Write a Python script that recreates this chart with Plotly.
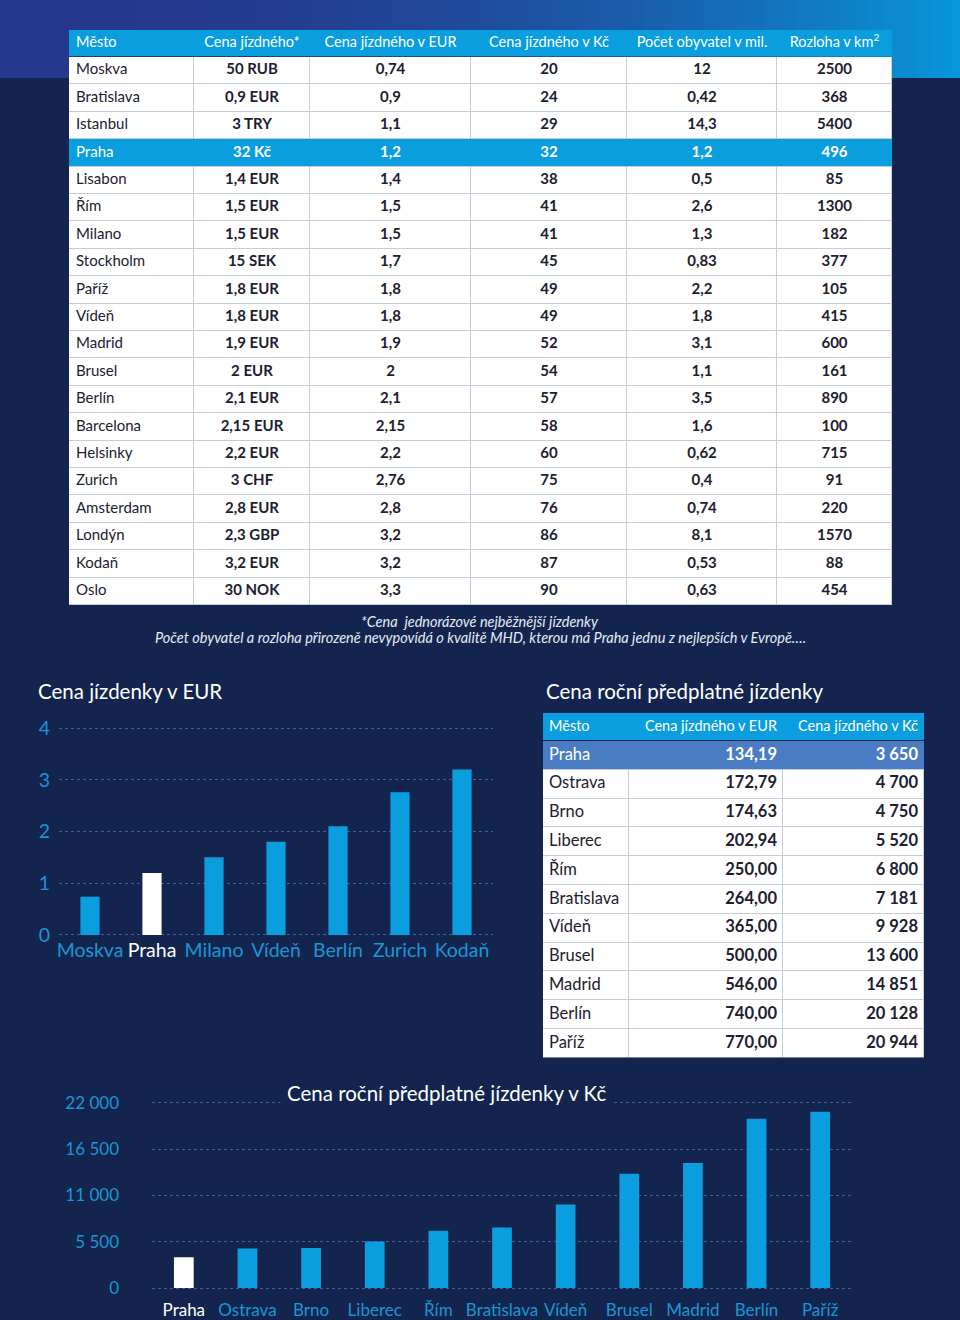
import plotly.graph_objects as go

# ---------------- data ----------------
cities = ["Moskva", "Bratislava", "Istanbul", "Praha", "Lisabon", "Řím", "Milano", "Stockholm",
          "Paříž", "Vídeň", "Madrid", "Brusel", "Berlín", "Barcelona", "Helsinky", "Zurich",
          "Amsterdam", "Londýn", "Kodaň", "Oslo"]
fare_local = ["50 RUB", "0,9 EUR", "3 TRY", "32 Kč", "1,4 EUR", "1,5 EUR", "1,5 EUR", "15 SEK",
              "1,8 EUR", "1,8 EUR", "1,9 EUR", "2 EUR", "2,1 EUR", "2,15 EUR", "2,2 EUR", "3 CHF",
              "2,8 EUR", "2,3 GBP", "3,2 EUR", "30 NOK"]
fare_eur = [0.74, 0.9, 1.1, 1.2, 1.4, 1.5, 1.5, 1.7, 1.8, 1.8, 1.9, 2, 2.1, 2.15, 2.2, 2.76,
            2.8, 3.2, 3.2, 3.3]
fare_czk = [20, 24, 29, 32, 38, 41, 41, 45, 49, 49, 52, 54, 57, 58, 60, 75, 76, 86, 87, 90]
population = [12, 0.42, 14.3, 1.2, 0.5, 2.6, 1.3, 0.83, 2.2, 1.8, 3.1, 1.1, 3.5, 1.6, 0.62, 0.4,
              0.74, 8.1, 0.53, 0.63]
area = [2500, 368, 5400, 496, 85, 1300, 182, 377, 105, 415, 600, 161, 890, 100, 715, 91, 220,
        1570, 88, 454]
table_headers = ["Město", "Cena jízdného*", "Cena jízdného v EUR", "Cena jízdného v Kč",
                 "Počet obyvatel v mil.", "Rozloha v km<sup>2</sup>"]

eur_chart_cities = ["Moskva", "Praha", "Milano", "Vídeň", "Berlín", "Zurich", "Kodaň"]

annual_cities = ["Praha", "Ostrava", "Brno", "Liberec", "Řím", "Bratislava", "Vídeň", "Brusel",
                 "Madrid", "Berlín", "Paříž"]
annual_eur = [134.19, 172.79, 174.63, 202.94, 250.00, 264.00, 365.00, 500.00, 546.00, 740.00, 770.00]
annual_czk = [3650, 4700, 4750, 5520, 6800, 7181, 9928, 13600, 14851, 20128, 20944]
annual_headers = ["Město", "Cena jízdného v EUR", "Cena jízdného v Kč"]
annual_ticks = [0, 5500, 11000, 16500, 22000]

highlight = "Praha"

# ---------------- styles ----------------
W, H = 960, 1320
NAVY = "#13254e"
CYAN = "#0a9ede"
PRAHA_BLUE = "#4a7cc4"
TICK = "#1b96d3"
GRID = "#3d62a6"
FONT = "Lato"
LINE = "#c3cddb"
DARK = "#1c2030"


def py(px):
    return 1 - px / H


def px_x(px):
    return px / W


def num(v):
    return f"{v:g}".replace(".", ",")


def thousands(v):
    return f"{v:,}".replace(",", " ")


def label(c):
    return f'<span style="color:white">{c}</span>' if c == highlight else c


def cumul(first, sizes):
    out = [first]
    for s in sizes:
        out.append(out[-1] + s)
    return out


fig = go.Figure()
shapes = []


def add_table(xa, ya, col_w, head_h, row_h, headers, columns, row_keys, hl_code,
              head_align, body_align, head_size, body_size, pad):
    """Draw a table: heatmap cells on their own axes + text traces."""
    nrow = len(row_keys)
    ncol = len(col_w)
    x_edges = cumul(0, col_w)
    y_edges = cumul(0, [head_h] + [row_h] * nrow)
    total_h = y_edges[-1]
    shapes.append(dict(type="rect", xref=xa, yref=ya, layer="below", x0=0, x1=x_edges[-1],
                       y0=head_h, y1=total_h, fillcolor=LINE, line_width=0))
    fig.add_trace(go.Heatmap(
        x=x_edges, y=y_edges[1:], z=[[0] * ncol for _ in range(nrow)],
        xaxis=xa, yaxis=ya, zmin=0, zmax=2,
        colorscale=[[0, "white"], [0.5, CYAN], [1, PRAHA_BLUE]],
        showscale=False, xgap=1, ygap=1, hoverinfo="skip"))
    z = [[1] * ncol] + [[hl_code] * ncol if k == highlight else [None] * ncol for k in row_keys]
    fig.add_trace(go.Heatmap(
        x=x_edges, y=y_edges, z=z, xaxis=xa, yaxis=ya, zmin=0, zmax=2,
        colorscale=[[0, "white"], [0.5, CYAN], [1, PRAHA_BLUE]],
        showscale=False, xgap=0, ygap=1, hoverinfo="skip"))

    def xpos(j, align):
        if align == "left":
            return x_edges[j] + pad, "middle right"
        if align == "right":
            return x_edges[j + 1] - pad, "middle left"
        return (x_edges[j] + x_edges[j + 1]) / 2, "middle center"

    hx, hp = zip(*[xpos(j, head_align[j]) for j in range(ncol)])
    fig.add_trace(go.Scatter(
        x=list(hx), y=[head_h / 2] * ncol, text=headers, mode="text", textposition=list(hp),
        textfont=dict(family=FONT, size=head_size, color="white"),
        xaxis=xa, yaxis=ya, hoverinfo="skip", showlegend=False, cliponaxis=False))
    bx, by, bt, bp, bc = [], [], [], [], []
    for j in range(ncol):
        x, p = xpos(j, body_align[j])
        for i, k in enumerate(row_keys):
            bx.append(x)
            by.append((y_edges[i + 1] + y_edges[i + 2]) / 2)
            bt.append(columns[j][i])
            bp.append(p)
            bc.append("white" if k == highlight else DARK)
    fig.add_trace(go.Scatter(
        x=bx, y=by, text=bt, mode="text", textposition=bp,
        textfont=dict(family=FONT, size=body_size, color=bc),
        xaxis=xa, yaxis=ya, hoverinfo="skip", showlegend=False, cliponaxis=False))
    return x_edges[-1], total_h


cols = [
    cities,
    [f"<b>{v}</b>" for v in fare_local],
    [f"<b>{num(v)}</b>" for v in fare_eur],
    [f"<b>{v}</b>" for v in fare_czk],
    [f"<b>{num(v)}</b>" for v in population],
    [f"<b>{v}</b>" for v in area],
]
t1_w, t1_h = add_table("x3", "y3", [125, 116, 161, 156, 150, 115], 27, 27.4, table_headers, cols,
                       cities, 1, ["left"] + ["center"] * 5, ["left"] + ["center"] * 5, 14.5, 15, 7)

a_cols = [
    annual_cities,
    [f"<b>{v:.2f}</b>".replace(".", ",") for v in annual_eur],
    [f"<b>{thousands(v)}</b>" for v in annual_czk],
]
t2_w, t2_h = add_table("x4", "y4", [86, 154, 141], 28, 28.8, annual_headers, a_cols,
                       annual_cities, 2, ["left", "right", "right"], ["left", "right", "right"],
                       14.5, 16.5, 6)

eur_lookup = dict(zip(cities, fare_eur))
eur_vals = [eur_lookup[c] for c in eur_chart_cities]
fig.add_trace(go.Bar(
    x=eur_chart_cities, y=eur_vals, xaxis="x", yaxis="y",
    marker=dict(color=["white" if c == highlight else CYAN for c in eur_chart_cities], line_width=0),
    showlegend=False, hoverinfo="x+y",
))

fig.add_trace(go.Bar(
    x=annual_cities, y=annual_czk, xaxis="x2", yaxis="y2",
    marker=dict(color=["white" if c == highlight else CYAN for c in annual_cities], line_width=0),
    showlegend=False, hoverinfo="x+y",
))

steps = 64
for i in range(steps):
    t = i / (steps - 1)
    t2 = t ** 2.2
    r = int(38 + (8 - 38) * t2)
    g = int(56 + (150 - 56) * t2)
    b = int(140 + (218 - 140) * t2)
    shapes.append(dict(type="rect", xref="paper", yref="paper", layer="below",
                       x0=i / steps, x1=(i + 1) / steps + 0.002, y0=py(78), y1=1,
                       fillcolor=f"rgb({r},{g},{b})", line_width=0))

annotations = [
    dict(text="<i>*Cena  jednorázové nejběžnější jízdenky</i>", x=0.5, y=py(621),
         xref="paper", yref="paper", showarrow=False,
         font=dict(family=FONT, size=14.5, color="#e6ebf5")),
    dict(text="<i>Počet obyvatel a rozloha přirozeně nevypovídá o kvalitě MHD, kterou má Praha jednu z nejlepších v Evropě….</i>",
         x=0.5, y=py(637), xref="paper", yref="paper", showarrow=False,
         font=dict(family=FONT, size=14.5, color="#e6ebf5")),
    dict(text="Cena jízdenky v EUR", x=px_x(36), y=py(691), xref="paper", yref="paper",
         xanchor="left", showarrow=False, font=dict(family=FONT, size=20.5, color="white")),
    dict(text="Cena roční předplatné jízdenky", x=px_x(544), y=py(691), xref="paper", yref="paper",
         xanchor="left", showarrow=False, font=dict(family=FONT, size=20.5, color="white")),
    dict(text="Cena roční předplatné jízdenky v Kč", x=px_x(446), y=py(1112), xref="paper", yref="paper",
         showarrow=False, bgcolor=NAVY, borderpad=6,
         font=dict(family=FONT, size=20.5, color="white")),
]

hidden = dict(showgrid=False, zeroline=False, showticklabels=False, showline=False, ticks="",
              fixedrange=True)

fig.update_layout(
    width=W, height=H,
    margin=dict(l=0, r=0, t=0, b=0, autoexpand=False),
    paper_bgcolor=NAVY, plot_bgcolor="rgba(0,0,0,0)",
    font=dict(family=FONT, color="white"),
    shapes=shapes, annotations=annotations,
    bargap=0.69, showlegend=False,
    xaxis=dict(domain=[px_x(59), px_x(493)], tickvals=eur_chart_cities,
               ticktext=[label(c) for c in eur_chart_cities],
               tickfont=dict(family=FONT, size=19.5, color=TICK), showgrid=False,
               showline=False, zeroline=False, ticks="", automargin=False),
    yaxis=dict(domain=[py(936), py(727)], range=[-0.02, 4.02], tickvals=[0, 1, 2, 3, 4],
               tickfont=dict(family=FONT, size=19.5, color=TICK), showgrid=True, gridcolor=GRID,
               griddash="dot", gridwidth=1, zeroline=False, showline=False, ticks="",
               ticklabelstandoff=8, automargin=False),
    xaxis2=dict(domain=[px_x(152), px_x(852)], anchor="y2", tickvals=annual_cities,
                ticktext=[label(c) for c in annual_cities],
                tickfont=dict(family=FONT, size=17, color=TICK), showgrid=False,
                showline=False, zeroline=False, ticks="", ticklabelstandoff=8, automargin=False),
    yaxis2=dict(domain=[py(1289.7), py(1101.3)], anchor="x2", range=[-200, 22200],
                tickvals=annual_ticks, ticktext=[thousands(v) for v in annual_ticks],
                tickfont=dict(family=FONT, size=17, color=TICK), showgrid=True, gridcolor=GRID,
                griddash="dot", gridwidth=1, zeroline=False, showline=False, ticks="",
                ticklabelstandoff=32, automargin=False),
    xaxis3=dict(domain=[px_x(69), px_x(69 + t1_w)], anchor="y3", range=[0, t1_w], **hidden),
    yaxis3=dict(domain=[py(30 + t1_h), py(30)], anchor="x3", range=[t1_h, 0], **hidden),
    xaxis4=dict(domain=[px_x(543), px_x(543 + t2_w)], anchor="y4", range=[0, t2_w], **hidden),
    yaxis4=dict(domain=[py(713 + t2_h), py(713)], anchor="x4", range=[t2_h, 0], **hidden),
)

fig.write_html("out.html", config={"displayModeBar": False},
               post_script="document.body.style.margin='0';")
